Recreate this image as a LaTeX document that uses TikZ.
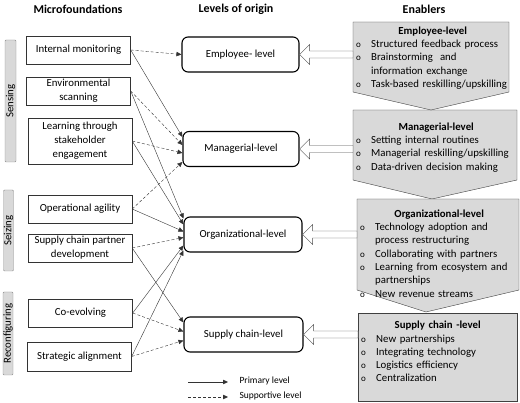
\documentclass[tikz,border=0pt]{standalone}
\usepackage{fontspec}
\setmainfont{Carlito}
\usetikzlibrary{arrows.meta,calc}

\newcommand{\enitem}[1]{\par\hangindent=15pt\hangafter=1\noindent\makebox[15pt][l]{\small o}#1}
\newcommand{\blockarrow}[2]{\draw[black!70, fill=white] let \p1=(#1), \p2=(#2) in
  (\x2,\y2) -- (\x2+10pt,\y2+10pt) -- (\x2+10pt,\y2+3.5pt) -- (\x1,\y2+3.5pt) --
  (\x1,\y2-3.5pt) -- (\x2+10pt,\y2-3.5pt) -- (\x2+10pt,\y2-10pt) -- cycle;}

\begin{document}
\begin{tikzpicture}[x=1pt, y=-1pt,
  mf/.style={draw, black!80, text=black, minimum width=104pt, minimum height=28pt, align=center, inner sep=1pt, font=\fontsize{10.8}{14}\selectfont},
  lvl/.style={draw, line width=1.1pt, rounded corners=6pt, minimum height=35pt, inner sep=0pt, font=\fontsize{10.8}{13}\selectfont},
  side/.style={draw=black!45, fill=black!15, rounded corners=1pt, rotate=90, minimum height=10pt, inner sep=0pt, font=\fontsize{10.8}{12}\selectfont},
  hd/.style={font=\fontsize{12}{14}\selectfont\bfseries},
  en/.style={draw=black!75, fill=black!15},
  entxt/.style={anchor=north west, inner sep=0pt, align=left, font=\fontsize{10.8}{13.3}\selectfont},
  pri/.style={black!80, -{Triangle[length=5pt,width=4.5pt]}},
  sup/.style={pri, dash pattern=on 3pt off 2pt}]
\useasboundingbox (0,0) rectangle (520,403);
\node[hd] (t1) at (78,9) {Microfoundations};
\node[hd] (t2) at (236,9) {Levels of origin};
\node[hd] (t3) at (424,9) {Enablers};
\node[side, minimum width=122pt, minimum height=11pt] (sens) at (10.5,101) {Sensing};
\node[side, minimum width=81pt] (seiz) at (8.5,230.5) {Seizing};
\node[side, minimum width=83pt] (reco) at (8,333.5) {Reconfiguring};
\node[mf] (im) at (78.5,50) {Internal monitoring};
\node[mf] (es) at (78.5,91) {Environmental\\scanning};
\node[mf, minimum height=46pt] (lse) at (80,141) {Learning through\\stakeholder\\engagement};
\node[mf] (oa) at (80,209) {Operational agility};
\node[mf] (scp) at (80,248) {Supply chain partner\\development};
\node[mf] (coe) at (80.5,313) {Co-evolving};
\node[mf, minimum height=29pt] (sa) at (79.5,356.5) {Strategic alignment};
\node[lvl, minimum width=117pt] (emp) at (240.5,54.5) {Employee- level};
\node[lvl, minimum width=116pt] (man) at (241,149) {Managerial-level};
\node[lvl, minimum width=118pt] (org) at (243,234.5) {Organizational-level};
\node[lvl, minimum width=119pt] (scl) at (243.5,334.5) {Supply chain-level};
\draw[sup] (im.east) -- (emp.west);
\draw[pri] (im.east) -- ([yshift=12pt]man.west);
\draw[sup] (es.east) -- ([yshift=4pt]man.west);
\draw[sup] (lse.east) -- ([yshift=-4pt]man.west);
\draw[sup] (oa.east) -- ([yshift=-13pt]man.west);
\draw[pri] (es.east) -- ([yshift=16pt]org.west);
\draw[pri] (lse.east) -- ([yshift=10pt]org.west);
\draw[pri] (oa.east) -- ([yshift=3pt]org.west);
\draw[sup] (scp.east) -- ([yshift=-3pt]org.west);
\draw[pri] (coe.east) -- ([yshift=-11pt]org.west);
\draw[pri] (sa.east) -- ([yshift=-16pt]org.west);
\draw[pri] (scp.east) -- ([yshift=12pt]scl.west);
\draw[sup] (coe.east) -- ([yshift=3pt]scl.west);
\draw[sup] (sa.east) -- ([yshift=-6pt]scl.west);
\draw[en] (353,110) -- (517,110) -- (517,180) -- (432,199) -- (353,180) -- cycle;
\draw[en] (357,199) -- (519,199) -- (519,290) -- (426,312) -- (357,290) -- cycle;
\draw[en] (358,313) rectangle (517,401);
\draw[en] (353,22) -- (509,22) -- (509,92) -- (431,110) -- (353,92) -- cycle;
\node[entxt, text width=153pt] (en1) at (356,26.5) {{\centering\bfseries Employee-level\par}\enitem{Structured feedback process}\enitem{Brainstorming\ \ and\newline information exchange}\enitem{Task-based reskilling/upskilling}};
\node[entxt, text width=160pt] (en2) at (356,122.5) {{\centering\bfseries Managerial-level\par}\enitem{Setting internal routines}\enitem{Managerial reskilling/upskilling}\enitem{Data-driven decision making}};
\node[entxt, text width=158pt] (en3) at (360,209.5) {{\centering\bfseries Organizational-level\par}\enitem{Technology adoption and\newline process restructuring}\enitem{Collaborating with partners}\enitem{Learning from ecosystem and\newline partnerships}\enitem{New revenue streams}};
\node[entxt, text width=153pt] (en4) at (361,321) {{\centering\bfseries Supply chain -level\par}\enitem{New partnerships}\enitem{Integrating technology}\enitem{Logistics efficiency}\enitem{Centralization}};
\coordinate (h1) at (353,54.5);
\coordinate (h2) at (353,149);
\coordinate (h3) at (357,234.5);
\coordinate (h4) at (358,334.5);
\blockarrow{h1}{emp.east}
\blockarrow{h2}{man.east}
\blockarrow{h3}{org.east}
\blockarrow{h4}{scl.east}
\coordinate (l1a) at (188,382);
\coordinate (l1b) at (228,382);
\coordinate (l2a) at (188,397);
\coordinate (l2b) at (228,397);
\draw[pri] (l1a) -- (l1b);
\draw[sup] (l2a) -- (l2b);
\node[anchor=west, font=\fontsize{9.5}{11}\selectfont] (l1) at (236,381) {Primary level};
\node[anchor=west, font=\fontsize{9.5}{11}\selectfont] (l2) at (236,396) {Supportive level};
\end{tikzpicture}
\end{document}
